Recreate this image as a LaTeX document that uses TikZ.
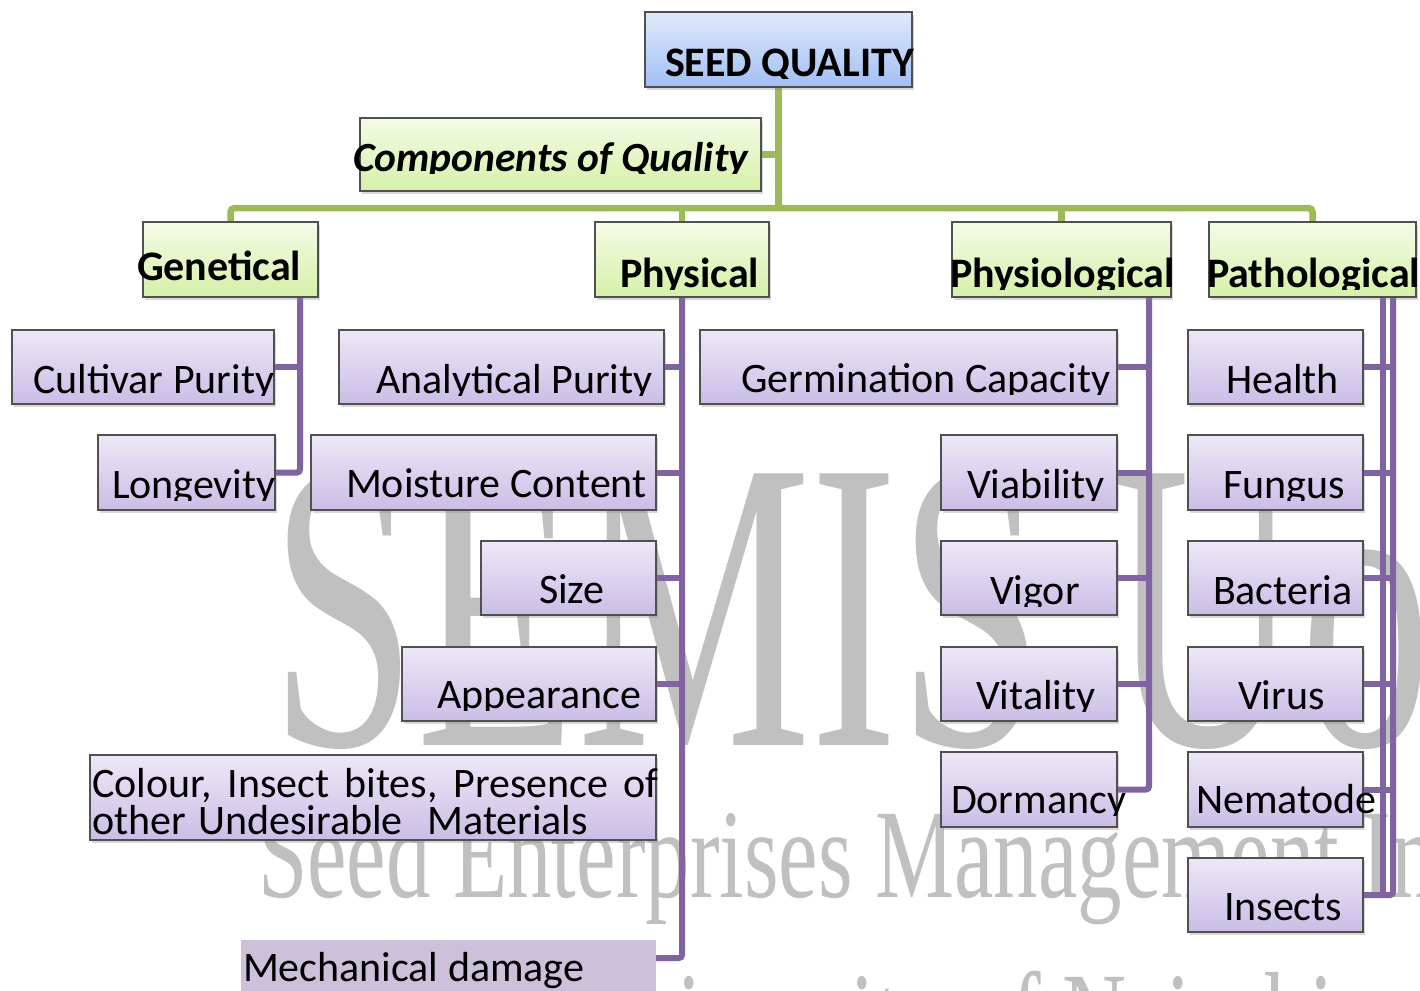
\documentclass[tikz,border=0pt]{standalone}
\usepackage{graphicx}
\usepackage{fontspec}
\setmainfont{Carlito}
\newfontfamily\wmfont{Liberation Serif}
\usetikzlibrary{shadows,fit,calc}
\definecolor{ptop}{RGB}{237,232,247}
\definecolor{pbot}{RGB}{203,189,230}
\definecolor{gtop}{RGB}{244,251,231}
\definecolor{gbot}{RGB}{214,240,168}
\definecolor{btop}{RGB}{224,233,251}
\definecolor{bbot}{RGB}{162,192,243}
\definecolor{bord}{RGB}{80,80,80}
\definecolor{plinec}{RGB}{128,100,162}
\definecolor{glinec}{RGB}{155,187,89}
\definecolor{wmc}{RGB}{192,192,192}
\definecolor{mechc}{RGB}{204,192,218}
\pgfdeclarelayer{wmlayer}
\pgfdeclarelayer{connlayer}
\pgfsetlayers{wmlayer,connlayer,main}
\tikzset{
  basebox/.style={draw=bord, line width=1.3pt, inner sep=0pt, outer sep=0pt,
    drop shadow={shadow xshift=1.5pt, shadow yshift=-3pt, opacity=0.3}},
  pbox/.style={basebox, top color=ptop, bottom color=pbot},
  gbox/.style={basebox, top color=gtop, bottom color=gbot},
  blbox/.style={basebox, top color=btop, bottom color=bbot},
  mbox/.style={fill=mechc, inner sep=0pt, outer sep=0pt},
  txt/.style={anchor=base west, inner sep=0pt, outer sep=0pt, text=black},
  reg/.style={font=\fontsize{42}{44}\selectfont},
  hd/.style={font=\fontsize{42}{44}\selectfont\bfseries},
  hdi/.style={font=\fontsize{41.5}{44}\selectfont\bfseries\itshape},
  pcon/.style={draw=plinec, line width=6pt},
  gcon/.style={draw=glinec, line width=6.5pt},
  wmtxt/.style={text=wmc, inner sep=0pt, outer sep=0pt, anchor=base west},
}
\newcommand\mybox[6]{\node[#2, fit={(#3,#4)(#5,#6)}] (#1) {};}
\newcommand\mytext[5]{%
  \begin{scope}
    \clip (#3-150,#4-150) rectangle (#3+900,#4+2);
    \node[txt,#2] (#1) at (#3,#4) {#5};
  \end{scope}}
\begin{document}
\begin{tikzpicture}[x=1pt,y=-1pt]
\useasboundingbox (0,0) rectangle (1420,990);

% watermark
\begin{pgfonlayer}{wmlayer}
\fill[white] (0,0) rectangle (1420,990);
\begin{scope}
\clip (0,0) rectangle (1420,990);
\node[wmtxt, font=\wmfont\fontsize{415}{415}\selectfont] (wm1) at (270,745) {\scalebox{0.634}[1]{SEMIS UoN}};
\node[wmtxt, font=\wmfont\fontsize{127}{127}\selectfont] (wm2) at (258,897) {\scalebox{0.70}[1]{Seed Enterprises Management In}};
\node[wmtxt, font=\wmfont\fontsize{127}{127}\selectfont] (wm3) at (569,1060) {\scalebox{0.70}[1]{University of Nairobi}};
\end{scope}
\end{pgfonlayer}

% top level
\mybox{sq}{blbox}{645}{12}{912}{87}
\mytext{sq-t}{hd}{665}{76}{SEED QUALITY}
\mybox{comp}{gbox}{360}{118}{761}{191}
\mytext{comp-t}{hdi}{353}{171}{Components of Quality}

\mybox{gen}{gbox}{143}{222}{318}{297}
\mytext{gen-t}{hd}{137}{280}{Genetical}
\mybox{phys}{gbox}{595}{222}{769}{297}
\mytext{phys-t}{hd}{620}{287}{Physical}
\mybox{physio}{gbox}{952}{222}{1171}{297}
\mytext{physio-t}{hd}{950}{287}{Physiological}
\mybox{path}{gbox}{1209}{222}{1416}{297}
\mytext{path-t}{hd}{1207}{287}{Pathological}

% genetical
\mybox{cult}{pbox}{12}{330}{274}{404}
\mytext{cult-t}{reg}{33}{393}{Cultivar Purity}
\mybox{long}{pbox}{98}{435}{275}{510}
\mytext{long-t}{reg}{112}{498}{Longevity}

% physical
\mybox{anal}{pbox}{339}{330}{664}{404}
\mytext{anal-t}{reg}{376}{393}{Analytical Purity}
\mybox{moist}{pbox}{311}{435}{656}{510}
\mytext{moist-t}{reg}{346}{497}{Moisture Content}
\mybox{size}{pbox}{481}{541}{656}{615}
\mytext{size-t}{reg}{539}{603}{Size}
\mybox{appear}{pbox}{402}{647}{656}{721}
\mytext{appear-t}{reg}{437}{708}{Appearance}
\mybox{colour}{pbox}{90}{755}{656}{840}
\node[txt, reg] (colour-t1) at (92,797) {\makebox[566pt][s]{Colour, Insect bites, Presence of}};
\node[txt, reg] (colour-t2) at (92,834) {\makebox[496pt][s]{other Undesirable\ \ Materials}};
\mybox{mech}{mbox}{241}{940}{656}{1000}
\node[txt, reg] (mech-t) at (243,981) {Mechanical damage};

% physiological
\mybox{germ}{pbox}{700}{330}{1117}{404}
\mytext{germ-t}{reg}{741}{392}{Germination Capacity}
\mybox{viab}{pbox}{941}{435}{1117}{510}
\mytext{viab-t}{reg}{967}{498}{Viability}
\mybox{vigor}{pbox}{941}{541}{1117}{615}
\mytext{vigor-t}{reg}{990}{604}{Vigor}
\mybox{vital}{pbox}{941}{647}{1117}{721}
\mytext{vital-t}{reg}{976}{709}{Vitality}
\mybox{dorm}{pbox}{941}{752}{1117}{827}
\mytext{dorm-t}{reg}{951}{813}{Dormancy}

% pathological
\mybox{health}{pbox}{1188}{330}{1363}{404}
\mytext{health-t}{reg}{1226}{393}{Health}
\mybox{fungus}{pbox}{1188}{435}{1363}{510}
\mytext{fungus-t}{reg}{1223}{498}{Fungus}
\mybox{bact}{pbox}{1188}{541}{1363}{615}
\mytext{bact-t}{reg}{1213}{604}{Bacteria}
\mybox{virus}{pbox}{1188}{647}{1363}{721}
\mytext{virus-t}{reg}{1238}{709}{Virus}
\mybox{nema}{pbox}{1188}{752}{1363}{827}
\mytext{nema-t}{reg}{1196}{813}{Nematode}
\mybox{insect}{pbox}{1188}{858}{1363}{932}
\mytext{insect-t}{reg}{1224}{920}{Insects}

% connectors
\begin{pgfonlayer}{connlayer}
\coordinate (bar) at (0,208);
\draw[gcon] (sq.south) -- (sq.south |- bar);
\draw[gcon] (comp.east) -- (comp.east -| sq.south);
\draw[gcon, rounded corners=4pt] (gen.north) -- (gen.north |- bar) -- (path.north |- bar) -- (path.north);
\draw[gcon] (phys.north |- bar) -- (phys.north);
\draw[gcon] (physio.north |- bar) -- (physio.north);

\coordinate (gx) at ([xshift=-18pt]gen.south east);
\draw[pcon] (gx) |- (cult.east);
\draw[pcon, rounded corners=3pt] (gx) |- (long.east);

\draw[pcon] (phys.south) |- (anal.east);
\draw[pcon] (phys.south) |- (moist.east);
\draw[pcon] (phys.south) |- (size.east);
\draw[pcon] (phys.south) |- (appear.east);
\draw[pcon, rounded corners=3pt] (phys.south) |- ([yshift=-18pt]mech.north east);

\coordinate (px) at ([xshift=-22pt]physio.south east);
\draw[pcon] (px) |- (germ.east);
\draw[pcon] (px) |- (viab.east);
\draw[pcon] (px) |- (vigor.east);
\draw[pcon] (px) |- (vital.east);
\draw[pcon, rounded corners=3pt] (px) |- (dorm.east);

\coordinate (qa) at ([xshift=-33pt]path.south east);
\coordinate (qb) at ([xshift=-23pt]path.south east);
\draw[pcon] (qb) |- (health.east);
\draw[pcon] (qb) |- (fungus.east);
\draw[pcon] (qb) |- (bact.east);
\draw[pcon] (qb) |- (virus.east);
\draw[pcon] (qb) |- (nema.east);
\draw[pcon, rounded corners=3pt] (qb) |- (insect.east);
\draw[pcon] (qa) |- (insect.east);
\end{pgfonlayer}
\end{tikzpicture}
\end{document}
